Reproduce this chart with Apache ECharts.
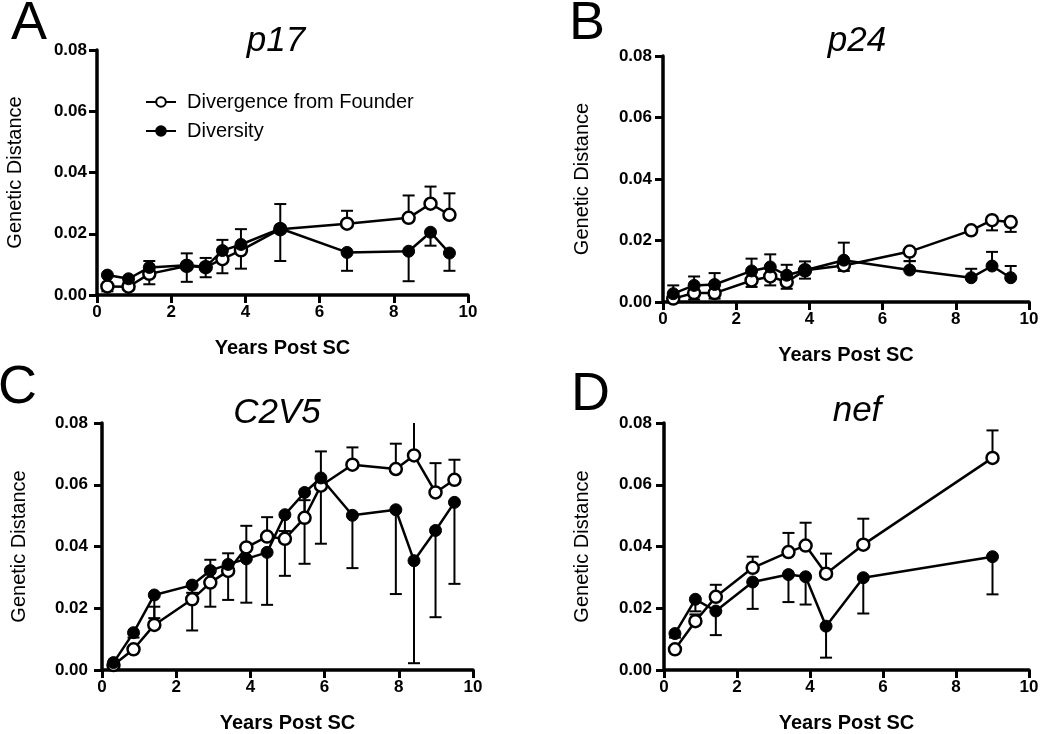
<!DOCTYPE html>
<html>
<head>
<meta charset="utf-8">
<script src="https://cdn.jsdelivr.net/npm/echarts@6/dist/echarts.min.js"></script>
<style>
html,body{margin:0;padding:0;background:#fff;}
#chart{width:1050px;height:734px;}
</style>
</head>
<body>
<div id="chart"></div>
<script>
// ---------- data ----------
const panelLetters = ['A', 'B', 'C', 'D'];
const panelTitles = ['p17', 'p24', 'C2V5', 'nef'];
const xTicks = [0, 2, 4, 6, 8, 10];
const yTicks = [0, 0.02, 0.04, 0.06, 0.08];
const seriesNames = ['Divergence from Founder', 'Diversity'];

// A: p17
const a_years = [0.28, 0.85, 1.41, 2.42, 2.93, 3.38, 3.88, 4.94, 6.74, 8.40, 8.99, 9.50];
const a_divergence = [0.0028, 0.0027, 0.0069, 0.0095, 0.0091, 0.0117, 0.0146, 0.0215, 0.0233, 0.0252, 0.0298, 0.0262];
const a_divergenceBarEnd = [0.0035, 0.0035, 0.0111, 0.0136, 0.0121, 0.0180, 0.0215, 0.0297, 0.0275, 0.0325, 0.0354, 0.0332];
const a_diversity = [0.0065, 0.0053, 0.0090, 0.0097, 0.0092, 0.0145, 0.0165, 0.0217, 0.0139, 0.0143, 0.0205, 0.0137];
const a_diversityBarEnd = [0.0012, 0.0040, 0.0035, 0.0043, 0.0058, 0.0071, 0.0086, 0.0111, 0.0079, 0.0045, 0.0161, 0.0079];

// B: p24
const b_years = [0.28, 0.85, 1.41, 2.42, 2.93, 3.38, 3.88, 4.94, 6.74, 8.42, 8.99, 9.50];
const b_divergence = [0.0011, 0.0029, 0.0029, 0.0070, 0.0083, 0.0065, 0.0103, 0.0119, 0.0164, 0.0233, 0.0266, 0.0260];
const b_divergenceBarEnd = [0.0000, 0.0008, 0.0011, 0.0049, 0.0054, 0.0043, 0.0076, 0.0101, 0.0133, 0.0225, 0.0233, 0.0228];
const b_diversity = [0.0027, 0.0054, 0.0057, 0.0101, 0.0114, 0.0087, 0.0103, 0.0136, 0.0104, 0.0079, 0.0117, 0.0079];
const b_diversityBarEnd = [0.0054, 0.0083, 0.0094, 0.0141, 0.0155, 0.0121, 0.0132, 0.0193, 0.0133, 0.0108, 0.0163, 0.0117];

// C: C2V5
const c_years = [0.31, 0.85, 1.41, 2.43, 2.92, 3.40, 3.89, 4.45, 4.93, 5.46, 5.90, 6.75, 7.92, 8.41, 8.99, 9.50];
const c_divergence = [0.0016, 0.0067, 0.0146, 0.0229, 0.0283, 0.0321, 0.0397, 0.0432, 0.0425, 0.0493, 0.0597, 0.0665, 0.0651, 0.0695, 0.0575, 0.0616];
const c_divergenceBarEnd = [0.0022, 0.0075, 0.0205, 0.0250, 0.0357, 0.0378, 0.0467, 0.0495, 0.0450, 0.0550, 0.0708, 0.0721, 0.0733, 0.0830, 0.0670, 0.0681];
const c_diversity = [0.0024, 0.0121, 0.0243, 0.0275, 0.0322, 0.0342, 0.0360, 0.0381, 0.0503, 0.0575, 0.0622, 0.0501, 0.0519, 0.0354, 0.0452, 0.0543];
const c_diversityBarEnd = [0.0010, 0.0105, 0.0168, 0.0128, 0.0205, 0.0227, 0.0218, 0.0211, 0.0305, 0.0344, 0.0409, 0.0330, 0.0246, 0.0022, 0.0171, 0.0279];

// D: nef
const d_years = [0.30, 0.86, 1.42, 2.43, 3.41, 3.88, 4.44, 5.46, 9.00];
const d_divergence = [0.0067, 0.0158, 0.0237, 0.0331, 0.0382, 0.0403, 0.0312, 0.0406, 0.0687];
const d_divergenceBarEnd = [0.0075, 0.0180, 0.0276, 0.0367, 0.0444, 0.0477, 0.0377, 0.0490, 0.0776];
const d_diversity = [0.0118, 0.0229, 0.0191, 0.0285, 0.0309, 0.0302, 0.0142, 0.0299, 0.0367];
const d_diversityBarEnd = [0.0105, 0.0190, 0.0113, 0.0198, 0.0220, 0.0212, 0.0040, 0.0183, 0.0245];

// ---------- layout / style ----------
const FONT = '"Liberation Sans", Arial, Helvetica, sans-serif';
const panels = [
  {years: a_years, div: a_divergence, divEnd: a_divergenceBarEnd, dvs: a_diversity, dvsEnd: a_diversityBarEnd},
  {years: b_years, div: b_divergence, divEnd: b_divergenceBarEnd, dvs: b_diversity, dvsEnd: b_diversityBarEnd},
  {years: c_years, div: c_divergence, divEnd: c_divergenceBarEnd, dvs: c_diversity, dvsEnd: c_diversityBarEnd},
  {years: d_years, div: d_divergence, divEnd: d_divergenceBarEnd, dvs: d_diversity, dvsEnd: d_diversityBarEnd}
];
const grids = [
  {left: 97, top: 50, width: 371, height: 245},
  {left: 663, top: 56, width: 366, height: 246},
  {left: 102, top: 423, width: 371, height: 247},
  {left: 664, top: 423, width: 365, height: 248}
];
const yLabelMargin = [10, 11, 14, 12];
const yNameGap = [72, 71, 73, 72];
const letterPos = [[11, -3], [569, -3], [-2, 361], [571, 368]];
const titlePos = [[276, 41], [857, 41], [277, 413], [857, 411]];

const xAxes = [], yAxes = [], series = [];
grids.forEach((g, i) => {
  xAxes.push({
    gridIndex: i, type: 'value', min: xTicks[0], max: xTicks[xTicks.length - 1], interval: xTicks[1] - xTicks[0],
    name: 'Years Post SC', nameLocation: 'middle', nameGap: 43,
    nameTextStyle: {fontFamily: FONT, fontSize: 20, fontWeight: 'bold', color: '#000'},
    axisLine: {show: true, onZero: false, lineStyle: {color: '#000', width: 3.5}},
    axisTick: {show: true, length: 8, lineStyle: {color: '#000', width: 3}},
    axisLabel: {fontFamily: FONT, fontSize: 17, fontWeight: 'bold', color: '#000', margin: 9},
    splitLine: {show: false}
  });
  yAxes.push({
    gridIndex: i, type: 'value', min: yTicks[0], max: yTicks[yTicks.length - 1], interval: yTicks[1] - yTicks[0],
    name: 'Genetic Distance', nameLocation: 'middle', nameGap: yNameGap[i], nameRotate: 90,
    nameTextStyle: {fontFamily: FONT, fontSize: 20, color: '#000'},
    axisLine: {show: true, onZero: false, lineStyle: {color: '#000', width: 3.5}},
    axisTick: {show: true, length: 8, lineStyle: {color: '#000', width: 3}},
    axisLabel: {fontFamily: FONT, fontSize: 17, fontWeight: 'bold', color: '#000', margin: yLabelMargin[i],
      formatter: v => v.toFixed(2)},
    splitLine: {show: false}
  });
});

function errorSeries(i, years, vals, ends) {
  return {
    type: 'custom', xAxisIndex: i, yAxisIndex: i, z: 1, silent: true,
    data: years.map((x, j) => [x, vals[j], ends[j]]),
    encode: {x: 0, y: [1, 2]},
    renderItem: (params, api) => {
      const x = api.value(0), y = api.value(1), e = api.value(2);
      const p = api.coord([x, y]);
      const q = api.coord([x, e]);
      const top = params.coordSys.y;
      const children = [];
      let qy = q[1], cap = true;
      if (qy < top) { qy = top; cap = false; }
      children.push({type: 'line', shape: {x1: p[0], y1: p[1], x2: q[0], y2: qy},
        style: {stroke: '#000', lineWidth: 2}});
      if (cap) children.push({type: 'line', shape: {x1: q[0] - 6, y1: qy, x2: q[0] + 6, y2: qy},
        style: {stroke: '#000', lineWidth: 2}});
      return {type: 'group', children};
    }
  };
}

panels.forEach((p, i) => {
  series.push(errorSeries(i, p.years, p.div, p.divEnd));
  series.push(errorSeries(i, p.years, p.dvs, p.dvsEnd));
  series.push({
    name: seriesNames[0], type: 'line', xAxisIndex: i, yAxisIndex: i, z: 3,
    data: p.years.map((x, j) => [x, p.div[j]]),
    symbol: 'circle', symbolSize: 12, showAllSymbol: true,
    lineStyle: {color: '#000', width: 2.5},
    itemStyle: {color: '#fff', borderColor: '#000', borderWidth: 2.5},
    emphasis: {disabled: true}
  });
  series.push({
    name: seriesNames[1], type: 'line', xAxisIndex: i, yAxisIndex: i, z: 4,
    data: p.years.map((x, j) => [x, p.dvs[j]]),
    symbol: 'circle', symbolSize: 12, showAllSymbol: true,
    lineStyle: {color: '#000', width: 2.5},
    itemStyle: {color: '#000', borderColor: '#000', borderWidth: 1},
    emphasis: {disabled: true}
  });
});

const graphics = [];
panelLetters.forEach((t, i) => {
  graphics.push({type: 'text', x: letterPos[i][0], y: letterPos[i][1],
    style: {text: t, font: '54px ' + FONT, fill: '#000', textAlign: 'left', textVerticalAlign: 'top'}});
});
panelTitles.forEach((t, i) => {
  graphics.push({type: 'text', x: titlePos[i][0], y: titlePos[i][1],
    style: {text: t, font: 'italic 35px ' + FONT, fill: '#000', textAlign: 'center', textVerticalAlign: 'middle'}});
});

const chart = echarts.init(document.getElementById('chart'), null, {renderer: 'canvas'});
chart.setOption({
  animation: false,
  backgroundColor: '#fff',
  grid: grids.map(g => Object.assign({containLabel: false}, g)),
  xAxis: xAxes,
  yAxis: yAxes,
  legend: {
    data: seriesNames, orient: 'vertical', left: 140, top: 87,
    itemWidth: 30, itemHeight: 12, itemGap: 9, selectedMode: false,
    textStyle: {fontFamily: FONT, fontSize: 20, color: '#000', padding: [0, 0, 0, 6]}
  },
  graphic: graphics,
  series: series
});
</script>
</body>
</html>
